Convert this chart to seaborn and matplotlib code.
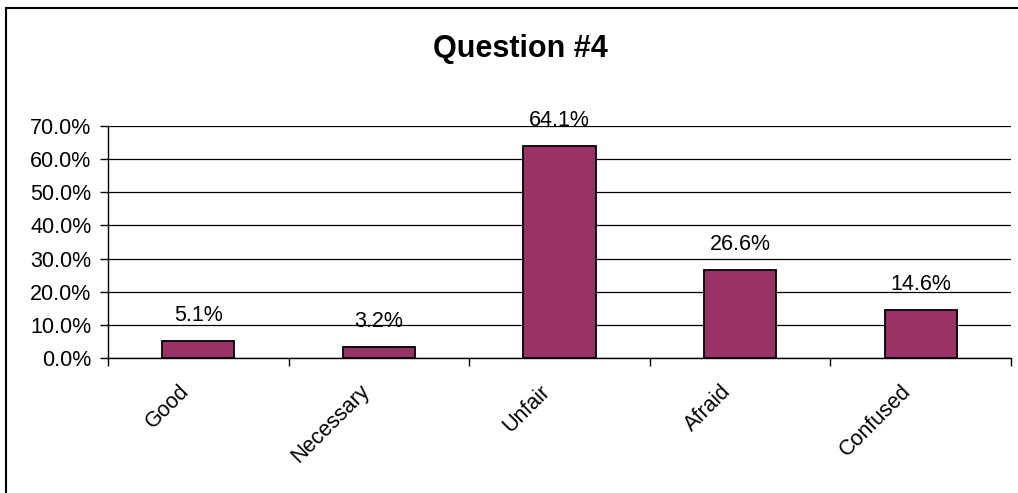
import matplotlib
matplotlib.use("Agg")
import matplotlib.pyplot as plt
import matplotlib.ticker as mticker
import matplotlib.transforms as mtransforms
from matplotlib.patches import Rectangle
import seaborn as sns
import numpy as np

categories = ["Good", "Necessary", "Unfair", "Afraid", "Confused"]
values = [5.1, 3.2, 64.1, 26.6, 14.6]
value_labels = ["5.1%", "3.2%", "64.1%", "26.6%", "14.6%"]
title = "Question #4"

sns.set_theme(style="white")
plt.rcParams["font.family"] = ["Liberation Sans", "DejaVu Sans"]

fig = plt.figure(figsize=(10.18, 4.93), dpi=100)
ax = fig.add_axes([108/1018, 1-358/493, (1011-108)/1018, (358-126)/493])

sns.barplot(x=categories, y=values, color="#993366", width=0.4, saturation=1,
            edgecolor="black", linewidth=1.3, ax=ax, zorder=3)

ax.set_ylim(0, 70)
ax.set_xlim(-0.5, len(categories) - 0.5)
ax.yaxis.set_major_locator(mticker.MultipleLocator(10))
ax.yaxis.set_major_formatter(mticker.FuncFormatter(lambda v, p: f"{v:.1f}%"))
ax.grid(axis="y", color="black", linewidth=0.9, zorder=0)
ax.set_axisbelow(True)

for s in ["top", "right"]:
    ax.spines[s].set_visible(False)
for s in ["left", "bottom"]:
    ax.spines[s].set_color("black")
    ax.spines[s].set_linewidth(1.0)

fs = 15.5
ax.tick_params(axis="y", which="major", left=True, length=6, width=1, color="black",
               labelsize=fs, labelcolor="black", pad=6)
ax.tick_params(axis="x", which="major", bottom=False, length=0, labelsize=fs,
               labelcolor="black", pad=16.5)
ax.set_xticks(np.arange(len(categories) + 1) - 0.5, minor=True)
ax.tick_params(axis="x", which="minor", bottom=True, length=6, width=1, color="black")

shift = mtransforms.ScaledTranslation(-20/100, 0, fig.dpi_scale_trans)
for lbl in ax.get_xticklabels():
    lbl.set_rotation(45)
    lbl.set_ha("right")
    lbl.set_va("top")
    lbl.set_rotation_mode("anchor")
    lbl.set_transform(lbl.get_transform() + shift)

ax.set_xlabel("")
ax.set_ylabel("")

for i, (v, t) in enumerate(zip(values, value_labels)):
    ax.annotate(t, xy=(i, v), xytext=(0, 14.4), textcoords="offset points",
                ha="center", va="baseline", fontsize=fs, color="black")

fig.text(520/1018, 1-57/493, title, ha="center", va="baseline",
         fontsize=22, fontweight="bold", color="black")

border = Rectangle((6/1018, -0.1), 1.2, 1 - 8/493 + 0.1, transform=fig.transFigure,
                   fill=False, edgecolor="black", linewidth=1.5)
fig.add_artist(border)

fig.savefig("out.png", dpi=100)
